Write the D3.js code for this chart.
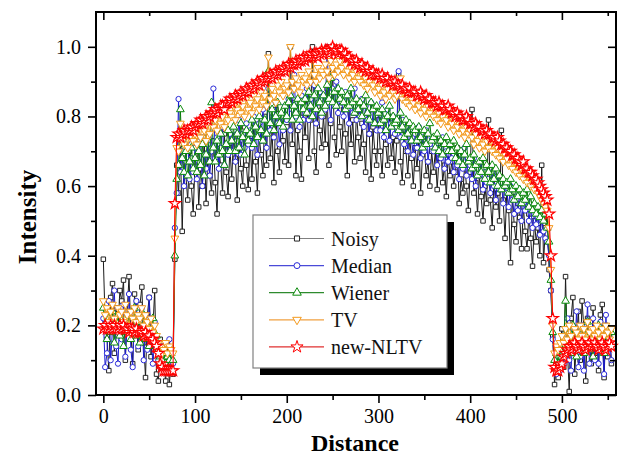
<!DOCTYPE html>
<html>
<head>
<meta charset="utf-8">
<script src="https://cdn.jsdelivr.net/npm/d3@7"></script>
<style>
  body { margin: 0; background: #fff; }
  svg text { font-family: "Liberation Serif", "Tinos", "Times New Roman", "Nimbus Roman", "DejaVu Serif", serif; }
</style>
</head>
<body>
<div id="chart"></div>
<script>
const FONT = '"Liberation Serif", "Tinos", "Times New Roman", "Nimbus Roman", "DejaVu Serif", serif';

// profile sampled every 2 units (0 ... 554)
const distance = d3.range(0, 555, 2);

const noisy = [
  .39,.21,.16,.07,.28,.32,.12,.25,.19,.30,
  .27,.33,.10,.24,.34,.18,.09,.29,.22,.13,
  .26,.31,.15,.05,.23,.28,.11,.19,.30,.06,
  .04,.16,.12,.08,.04,.14,.03,.10,.06,.39,
  .66,.58,.72,.47,.68,.63,.56,.70,.60,.52,
  .67,.72,.54,.65,.60,.74,.55,.69,.63,.58,
  .73,.61,.52,.70,.66,.58,.75,.64,.57,.71,
  .62,.74,.68,.56,.72,.65,.60,.77,.66,.59,
  .73,.62,.78,.67,.58,.74,.69,.63,.80,.66,
  .98,.68,.76,.61,.82,.70,.64,.79,.73,.67,
  .77,.66,1.00,.72,.84,.63,.76,.70,.62,.81,
  .74,.85,.68,.79,1.00,.70,.64,.83,.76,.71,
  .80,.72,.88,.66,.78,.93,.74,.69,.84,.77,
  .70,.82,.75,.63,.86,.72,.79,.67,.81,.74,
  .68,.78,.72,.64,.81,.75,.62,.77,.70,.66,
  .79,.70,.63,.76,.72,.66,.80,.68,.74,.64,
  .73,.92,.67,.61,.76,.70,.63,.74,.68,.60,
  .71,.65,.74,.58,.69,.72,.63,.67,.60,.70,
  .64,.70,.59,.68,.73,.61,.66,.57,.69,.63,
  .67,.60,.64,.71,.55,.62,.58,.66,.60,.53,
  .64,.82,.58,.61,.52,.63,.57,.50,.60,.55,
  .79,.56,.48,.62,.54,.58,.50,.76,.56,.45,
  .59,.53,.38,.57,.49,.44,.55,.51,.42,.54,
  .47,.42,.52,.45,.37,.50,.44,.48,.40,.66,
  .38,.48,.52,.36,.30,.17,.03,.10,.05,.14,
  .19,.08,.34,.13,.01,.22,.28,.06,.16,.24,
  .10,.27,.19,.04,.22,.15,.09,.25,.12,.18,
  .07,.23,.26,.05,.20,.11,.17,.09
];

const median = [
  .22,.08,.12,.27,.10,.19,.30,.14,.09,.24,
  .16,.26,.11,.21,.29,.13,.08,.23,.27,.14,
  .19,.25,.10,.22,.13,.28,.17,.09,.21,.15,
  .10,.08,.14,.09,.11,.08,.16,.10,.09,.48,
  .58,.85,.64,.70,.60,.67,.73,.62,.68,.64,
  .71,.62,.67,.74,.60,.69,.65,.72,.63,.70,
  .88,.68,.74,.65,.71,.77,.66,.72,.69,.75,
  .70,.76,.67,.73,.79,.69,.75,.71,.78,.72,
  .76,.71,.80,.74,.69,.78,.73,.82,.75,.71,
  .88,.76,.81,.74,.84,.78,.72,.80,.76,.83,
  .79,.85,.76,.82,.92,.80,.84,.77,.86,.79,
  .83,.88,.79,.85,.81,.89,.78,.84,.87,.80,
  .86,.82,1.00,.84,.79,.88,.83,.90,.81,.86,
  .84,.80,.87,.82,.78,.85,.81,.88,.79,.83,
  .80,.85,.77,.83,.79,.75,.84,.78,.82,.76,
  .81,.76,.84,.74,.79,.82,.73,.78,.80,.75,
  .77,.93,.74,.79,.72,.77,.70,.76,.73,.69,
  .75,.71,.77,.68,.74,.70,.76,.67,.72,.74,
  .70,.73,.66,.71,.68,.74,.65,.70,.67,.72,
  .68,.64,.70,.66,.62,.69,.65,.71,.63,.67,
  .66,.62,.68,.60,.65,.63,.67,.59,.64,.61,
  .62,.58,.64,.60,.56,.63,.59,.61,.55,.60,
  .58,.54,.60,.56,.52,.57,.53,.58,.50,.55,
  .53,.56,.50,.54,.48,.52,.49,.51,.46,.50,
  .47,.45,.44,.40,.30,.16,.08,.06,.11,.07,
  .12,.09,.15,.22,.10,.07,.18,.13,.24,.08,
  .11,.20,.07,.16,.26,.09,.13,.22,.10,.18,
  .09,.21,.14,.06,.23,.12,.18,.10
];

const wiener = [
  .25,.19,.16,.22,.18,.24,.15,.21,.23,.17,
  .20,.14,.22,.18,.23,.16,.19,.25,.17,.21,
  .15,.19,.23,.16,.20,.14,.18,.22,.16,.17,
  .13,.11,.10,.12,.09,.11,.10,.12,.10,.40,
  .62,.66,.82,.68,.64,.70,.63,.67,.71,.65,
  .68,.64,.70,.66,.72,.63,.69,.74,.67,.84,
  .71,.67,.73,.69,.75,.70,.66,.72,.76,.70,
  .73,.77,.70,.75,.71,.78,.74,.69,.76,.73,
  .75,.79,.72,.77,.74,.80,.76,.73,.79,.75,
  .93,.78,.82,.76,.80,.84,.78,.81,.77,.83,
  .80,.84,.86,.79,.83,.81,.85,.79,.84,.82,
  .85,.81,.87,.83,.80,.86,.82,.88,.84,.81,
  .86,.83,.89,.85,.91,.84,.87,.83,.88,.85,
  .87,.84,.82,.86,.83,.88,.84,.81,.85,.82,
  .84,.80,.83,.86,.81,.79,.84,.82,.78,.83,
  .81,.78,.82,.79,.76,.80,.83,.77,.80,.78,
  .79,.76,.81,.77,.74,.79,.75,.78,.73,.77,
  .76,.73,.77,.74,.71,.76,.72,.75,.78,.73,
  .74,.71,.75,.70,.73,.69,.72,.74,.70,.72,
  .70,.73,.68,.71,.67,.70,.66,.69,.72,.67,
  .68,.65,.69,.66,.63,.67,.64,.68,.62,.66,
  .64,.61,.66,.62,.65,.60,.63,.59,.62,.60,
  .61,.58,.62,.59,.56,.60,.57,.59,.55,.58,
  .56,.59,.54,.57,.53,.55,.52,.54,.51,.53,
  .50,.52,.48,.44,.33,.18,.10,.12,.09,.13,
  .11,.16,.27,.14,.18,.12,.20,.15,.11,.17,
  .14,.19,.12,.17,.21,.13,.16,.11,.18,.15,
  .20,.13,.17,.12,.19,.15,.14,.18
];

const tv = [
  .27,.23,.25,.21,.24,.26,.22,.20,.25,.23,
  .24,.21,.26,.23,.20,.24,.22,.25,.21,.23,
  .22,.25,.20,.23,.21,.19,.22,.18,.20,.17,
  .15,.14,.12,.13,.15,.12,.14,.13,.12,.45,
  .71,.70,.78,.73,.72,.75,.71,.74,.76,.73,
  .75,.72,.77,.74,.79,.76,.73,.78,.75,.80,
  .77,.79,.76,.81,.78,.80,.77,.82,.79,.81,
  .80,.83,.79,.82,.84,.81,.83,.80,.85,.82,
  .84,.81,.86,.83,.85,.82,.87,.84,.86,.83,
  .97,.85,.88,.86,.84,.89,.87,.90,.86,.88,
  .89,.87,1.00,.90,.88,.91,.89,.87,.92,.90,
  .91,.89,.93,.90,.98,.92,.90,.94,.91,.93,
  .92,.95,.93,.91,.96,.94,.92,.95,.93,.96,
  .94,.92,.95,.93,.91,.94,.92,.90,.93,.91,
  .90,.92,.89,.91,.88,.90,.92,.89,.87,.90,
  .88,.86,.89,.87,.85,.88,.86,.89,.87,.85,
  .86,.88,.91,.85,.87,.84,.86,.83,.85,.84,
  .82,.85,.83,.81,.84,.82,.80,.83,.81,.84,
  .80,.82,.79,.81,.78,.80,.82,.79,.77,.80,
  .78,.76,.79,.77,.75,.78,.76,.74,.77,.75,
  .76,.74,.72,.75,.73,.71,.74,.72,.70,.73,
  .71,.73,.70,.72,.69,.71,.68,.70,.67,.69,
  .68,.66,.69,.65,.67,.64,.66,.63,.65,.62,
  .64,.61,.63,.60,.62,.59,.61,.58,.57,.56,
  .55,.54,.53,.48,.36,.20,.12,.14,.13,.15,
  .17,.15,.19,.16,.20,.17,.15,.19,.18,.16,
  .20,.17,.19,.16,.21,.18,.16,.19,.17,.20,
  .18,.16,.19,.17,.20,.18,.16,.19
];

const nltv = [
  .19,.20,.19,.19,.20,.19,.20,.19,.19,.20,
  .19,.20,.19,.19,.18,.19,.19,.18,.19,.18,
  .18,.18,.17,.18,.17,.17,.16,.16,.15,.14,
  .12,.09,.08,.07,.07,.07,.07,.07,.07,.55,
  .74,.75,.74,.75,.76,.75,.76,.76,.77,.76,
  .77,.78,.78,.79,.78,.79,.80,.79,.80,.81,
  .81,.82,.81,.82,.83,.83,.82,.84,.84,.85,
  .84,.85,.86,.85,.86,.87,.86,.87,.88,.87,
  .88,.89,.88,.89,.90,.89,.90,.91,.90,.91,
  .91,.92,.91,.92,.93,.92,.93,.93,.94,.93,
  .94,.95,.94,.95,.95,.96,.95,.96,.96,.97,
  .96,.97,.97,.98,.97,.98,.98,.97,.98,.99,
  .98,.99,.99,.98,.99,1.00,.99,.99,.98,.99,
  .99,.98,.98,.97,.97,.96,.96,.95,.96,.95,
  .94,.95,.94,.93,.94,.93,.92,.93,.92,.92,
  .92,.91,.92,.91,.90,.91,.90,.90,.89,.90,
  .89,.89,.88,.89,.88,.88,.87,.88,.87,.87,
  .87,.86,.86,.87,.86,.85,.86,.85,.85,.84,
  .84,.84,.83,.84,.83,.83,.82,.82,.83,.82,
  .81,.81,.80,.81,.80,.80,.79,.79,.80,.79,
  .78,.78,.77,.78,.77,.77,.76,.76,.75,.76,
  .75,.75,.74,.74,.73,.74,.73,.72,.72,.71,
  .71,.70,.70,.69,.69,.68,.68,.67,.66,.67,
  .65,.65,.64,.64,.63,.62,.62,.61,.60,.59,
  .58,.57,.56,.52,.40,.22,.08,.07,.07,.08,
  .09,.11,.12,.13,.14,.13,.14,.15,.14,.13,
  .14,.15,.14,.13,.14,.15,.14,.14,.15,.14,
  .13,.14,.15,.14,.13,.14,.15,.14
];

const seriesNames = ["Noisy", "Median", "Wiener", "TV", "new-NLTV"];
const xTicks = [0, 100, 200, 300, 400, 500];
const xMinor = [50, 150, 250, 350, 450, 550];
const yTicks = [0.0, 0.2, 0.4, 0.6, 0.8, 1.0];
const yMinor = [0.1, 0.3, 0.5, 0.7, 0.9];

const width = 619;
const height = 457;
const margin = { top: 12, left: 96, bottom: 62, right: 3 };
const iwidth = width - margin.left - margin.right;
const iheight = height - margin.top - margin.bottom;

const svg = d3.select("#chart").append("svg")
  .attr("width", width).attr("height", height)
  .style("background", "#fff");

const g = svg.append("g").attr("transform", `translate(${margin.left},${margin.top})`);

const x = d3.scaleLinear().domain([-8, 559]).range([0, iwidth]);
const y = d3.scaleLinear().domain([0, 1.1]).range([iheight, 0]);

const styles = [
  { stroke: "#1a1a1a", mark: "#222", line: "#808080", symbol: d3.symbolSquare, size: 20, rot: 0, sw: 1 },
  { stroke: "#1c1cd0", mark: "#2a2ad8", line: "#4a4ad8", symbol: d3.symbolCircle, size: 22, rot: 0, sw: 1 },
  { stroke: "#0b7d0b", mark: "#0b8a0b", line: "#2e8b2e", symbol: d3.symbolTriangle, size: 26, rot: 0, sw: 1 },
  { stroke: "#f39a1e", mark: "#f39a1e", line: "#f0a040", symbol: d3.symbolTriangle, size: 26, rot: 180, sw: 1 },
  { stroke: "#ff0000", mark: "#ff0000", line: "#e03030", symbol: d3.symbolStar, size: 40, rot: 0, sw: 1.2 }
];

const allSeries = [noisy, median, wiener, tv, nltv];

const line = d3.line().x((d, i) => x(distance[i])).y(d => y(d));

allSeries.forEach((vals, k) => {
  const st = styles[k];
  g.append("path")
    .datum(vals)
    .attr("fill", "none")
    .attr("stroke", st.stroke)
    .attr("stroke-width", 1)
    .attr("d", line);

  const sym = d3.symbol().type(st.symbol).size(st.size);
  g.append("g").selectAll("path")
    .data(vals)
    .enter().append("path")
    .attr("d", sym)
    .attr("transform", (d, i) => `translate(${x(distance[i])},${y(d)}) rotate(${st.rot})`)
    .attr("fill", "#fff")
    .attr("stroke", st.mark)
    .attr("stroke-width", st.sw);
});

// axes
function styleAxis(sel) {
  sel.attr("font-family", FONT);
  sel.select(".domain").remove();
  sel.selectAll("line").attr("stroke", "#000").attr("stroke-width", 1.6);
  sel.selectAll("text").attr("fill", "#000").attr("font-size", 20).attr("font-family", FONT);
}

g.append("g").attr("transform", `translate(0,${iheight})`)
  .call(d3.axisBottom(x).tickValues(xTicks).tickSize(8).tickPadding(6).tickFormat(d3.format("d")))
  .call(styleAxis);
g.append("g").attr("transform", `translate(0,${iheight})`)
  .call(d3.axisBottom(x).tickValues(xMinor).tickSize(5).tickFormat(""))
  .call(styleAxis);
g.append("g")
  .call(d3.axisBottom(x).tickValues(xTicks).tickSize(8).tickFormat(""))
  .call(styleAxis);
g.append("g")
  .call(d3.axisBottom(x).tickValues(xMinor).tickSize(4).tickFormat(""))
  .call(styleAxis);

g.append("g")
  .call(d3.axisLeft(y).tickValues(yTicks).tickSize(8).tickPadding(7).tickFormat(d3.format(".1f")))
  .call(styleAxis);
g.append("g")
  .call(d3.axisLeft(y).tickValues(yMinor).tickSize(5).tickFormat(""))
  .call(styleAxis);
g.append("g").attr("transform", `translate(${iwidth},0)`)
  .call(d3.axisLeft(y).tickValues(yTicks).tickSize(8).tickFormat(""))
  .call(styleAxis);
g.append("g").attr("transform", `translate(${iwidth},0)`)
  .call(d3.axisLeft(y).tickValues(yMinor).tickSize(6).tickFormat(""))
  .call(styleAxis);

g.append("rect")
  .attr("width", iwidth).attr("height", iheight)
  .attr("fill", "none").attr("stroke", "#000").attr("stroke-width", 2);

// axis titles
svg.append("text")
  .attr("x", 355).attr("y", 451)
  .attr("text-anchor", "middle")
  .attr("font-family", FONT)
  .attr("font-size", 24).attr("font-weight", "bold")
  .text("Distance");

svg.append("text")
  .attr("transform", "translate(36,217) rotate(-90)")
  .attr("text-anchor", "middle")
  .attr("font-family", FONT)
  .attr("font-size", 25).attr("font-weight", "bold")
  .text("Intensity");

// legend
const lg = svg.append("g").attr("transform", "translate(253,215)");
lg.append("rect").attr("x", 7).attr("y", 7).attr("width", 194).attr("height", 153).attr("fill", "#000");
lg.append("rect").attr("width", 194).attr("height", 153).attr("fill", "#fff")
  .attr("stroke", "#808080").attr("stroke-width", 1.2);

seriesNames.forEach((name, k) => {
  const st = styles[k];
  const yy = 23.5 + k * 27.1;
  lg.append("line").attr("x1", 16).attr("x2", 71).attr("y1", yy).attr("y2", yy)
    .attr("stroke", st.line).attr("stroke-width", 1.2);
  lg.append("path")
    .attr("d", d3.symbol().type(st.symbol).size(st.size + 6))
    .attr("transform", `translate(44,${yy}) rotate(${st.rot})`)
    .attr("fill", "#fff").attr("stroke", st.mark).attr("stroke-width", 1);
  lg.append("text").attr("x", 78).attr("y", yy + 7)
    .attr("font-family", FONT)
    .attr("font-size", 20).attr("fill", "#111")
    .text(name);
});
</script>
</body>
</html>
